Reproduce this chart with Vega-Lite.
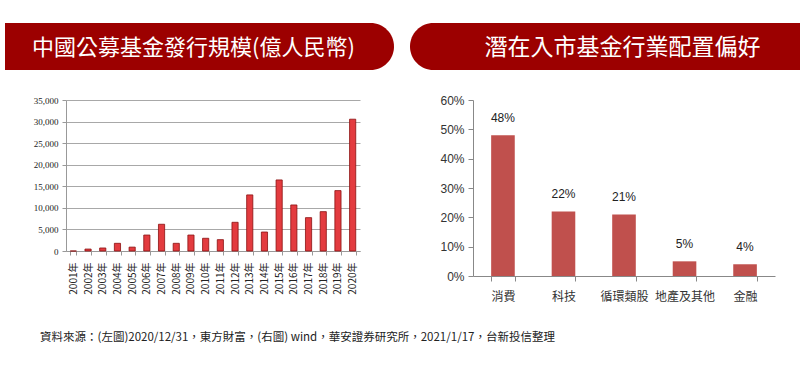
{
  "$schema": "https://vega.github.io/schema/vega-lite/v6.json",
  "padding": {"left": 0, "top": 23, "right": 0, "bottom": 0},
  "background": "white",
  "config": {"view": {"stroke": null}, "font": "Noto Sans CJK TC"},
  "title": {"text": "資料來源：(左圖)2020/12/31，東方財富，(右圖) wind，華安證券研究所，2021/1/17，台新投信整理", "orient": "bottom", "anchor": "start", "dx": 40, "offset": 30, "fontSize": 11.5, "fontWeight": "normal", "color": "#222", "font": "Noto Sans CJK TC"},
  "spacing": 24,
  "vconcat": [
    {
      "spacing": 16,
      "hconcat": [
        {
          "width": 389, "height": 47,
          "data": {"values": [{"title": "中國公募基金發行規模(億人民幣)"}]},
          "layer": [
            {"mark": {"type": "rect", "color": "#9c0000", "cornerRadiusTopRight": 23.5, "cornerRadiusBottomRight": 23.5}, "encoding": {}},
            {"mark": {"type": "text", "color": "white", "fontSize": 22, "font": "Noto Sans CJK TC", "dx": -6, "dy": 1}, "encoding": {"text": {"field": "title"}}}
          ]
        },
        {
          "width": 395, "height": 47,
          "data": {"values": [{"title": "潛在入市基金行業配置偏好"}]},
          "layer": [
            {"mark": {"type": "rect", "color": "#9c0000", "cornerRadiusTopLeft": 23.5, "cornerRadiusBottomLeft": 23.5}, "encoding": {}},
            {"mark": {"type": "text", "color": "white", "fontSize": 23, "font": "Noto Sans CJK TC", "dx": 15, "dy": 1}, "encoding": {"text": {"field": "title"}}}
          ]
        }
      ]
    },
    {
      "spacing": 71,
      "hconcat": [
        {
          "width": 355, "height": 151,
          "data": {"values": [
            {"year": "2001年", "value": 0},
            {"year": "2002年", "value": 450},
            {"year": "2003年", "value": 700},
            {"year": "2004年", "value": 1780},
            {"year": "2005年", "value": 900},
            {"year": "2006年", "value": 3700},
            {"year": "2007年", "value": 6200},
            {"year": "2008年", "value": 1780},
            {"year": "2009年", "value": 3700},
            {"year": "2010年", "value": 2950},
            {"year": "2011年", "value": 2630},
            {"year": "2012年", "value": 6650},
            {"year": "2013年", "value": 13000},
            {"year": "2014年", "value": 4400},
            {"year": "2015年", "value": 16470},
            {"year": "2016年", "value": 10670},
            {"year": "2017年", "value": 7730},
            {"year": "2018年", "value": 9120},
            {"year": "2019年", "value": 14000},
            {"year": "2020年", "value": 30550}
          ]},
          "mark": {"type": "bar", "color": "#e33b3f", "stroke": "#8a1010", "strokeWidth": 0.8},
          "encoding": {
            "x": {"field": "year", "type": "nominal", "sort": null, "scale": {"range": [61, 355], "paddingInner": 0.58, "paddingOuter": 0.29},
                  "axis": {"title": null, "labelAngle": -90, "labelFontSize": 10, "labelFont": "Noto Sans CJK TC", "labelColor": "#222", "tickBand": "extent", "tickColor": "#999", "domainColor": "#999", "tickSize": 4, "labelPadding": 7}},
            "y": {"field": "value", "type": "quantitative", "scale": {"domain": [0, 35000]},
                  "axis": {"title": null, "offset": -61, "values": [0, 5000, 10000, 15000, 20000, 25000, 30000, 35000], "format": ",d", "labelFontSize": 9, "labelFont": "Liberation Sans Narrow", "labelColor": "#222", "gridColor": "#a8a8a8", "domainColor": "#999", "tickColor": "#999", "tickSize": 4, "labelPadding": 4}}
          }
        },
        {
          "width": 302, "height": 176,
          "data": {"values": [
            {"sector": "消費", "share": 0.48},
            {"sector": "科技", "share": 0.22},
            {"sector": "循環類股", "share": 0.21},
            {"sector": "地產及其他", "share": 0.05},
            {"sector": "金融", "share": 0.04}
          ]},
          "encoding": {
            "x": {"field": "sector", "type": "nominal", "sort": null, "scale": {"paddingInner": 0.61, "paddingOuter": 0.3},
                  "axis": {"title": null, "labelAngle": 0, "labelFontSize": 12, "labelColor": "#333", "tickBand": "extent", "tickColor": "#888", "domainColor": "#888", "tickSize": 5, "labelPadding": 10}},
            "y": {"field": "share", "type": "quantitative", "scale": {"domain": [0, 0.6]},
                  "axis": {"title": null, "values": [0, 0.1, 0.2, 0.3, 0.4, 0.5, 0.6], "format": ".0%", "grid": false, "labelFontSize": 12, "labelFont": "Liberation Sans", "labelColor": "#333", "domainColor": "#888", "tickColor": "#888", "tickSize": 5, "minExtent": 42, "labelPadding": 4}}
          },
          "layer": [
            {"mark": {"type": "bar", "color": "#c0504d"}},
            {"mark": {"type": "text", "baseline": "bottom", "dy": -10, "fontSize": 12, "font": "Liberation Sans", "color": "#222"},
             "encoding": {"text": {"field": "share", "type": "quantitative", "format": ".0%"}}}
          ]
        }
      ]
    }
  ]
}
